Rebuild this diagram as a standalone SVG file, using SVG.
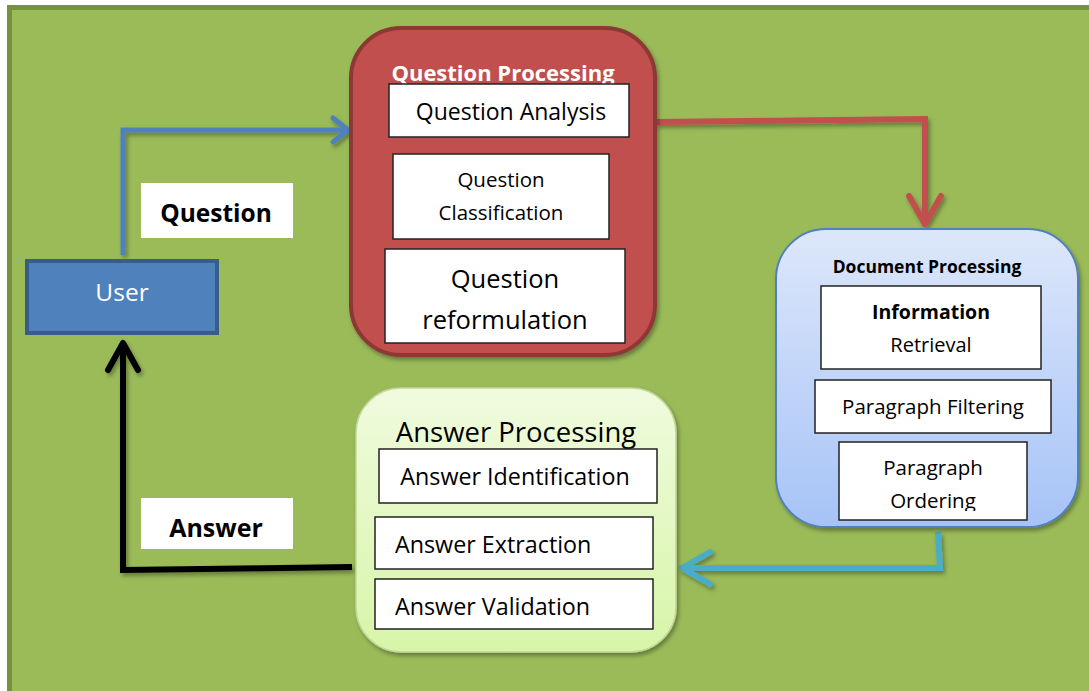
<svg xmlns="http://www.w3.org/2000/svg" width="1089" height="691" viewBox="0 0 1089 691">
<style>
text{font-family:"Open Sans","Noto Sans",sans-serif;fill:#000}
.inner{fill:#fff;stroke:#222;stroke-width:1.5}
.lbl{fill:#fff}
.b{font-weight:bold}
.c{text-anchor:middle}
.conn{fill:none;stroke-linecap:butt;stroke-linejoin:miter}
.head{fill:none;stroke-linecap:round;stroke-linejoin:round}
</style>
<defs>
<filter id="sh" x="-10%" y="-10%" width="130%" height="130%">
<feDropShadow dx="2" dy="3" stdDeviation="2" flood-color="#000" flood-opacity="0.35"/>
</filter>
<linearGradient id="gBlue" x1="0" y1="0" x2="0" y2="1">
<stop offset="0" stop-color="#dde7fa"/>
<stop offset="1" stop-color="#a6c3f7"/>
</linearGradient>
<linearGradient id="gGreen" x1="0" y1="0" x2="0" y2="1">
<stop offset="0" stop-color="#f0fbde"/>
<stop offset="1" stop-color="#d7f5a8"/>
</linearGradient>
<clipPath id="clipOrd"><rect x="839" y="442" width="188" height="69"/></clipPath>
</defs>
<rect x="0" y="0" width="1089" height="691" fill="#fff"/>
<rect x="9.5" y="7.5" width="1090" height="700" fill="#9bbb59" stroke="#76923c" stroke-width="5"/>

<g id="connectors">
<g id="c-question" filter="url(#sh)">
<path class="conn" d="M123,255 V130 H346" stroke="#4f81bd" stroke-width="5"/>
<path class="head" d="M333,118 L348,130 L333,142" stroke="#4f81bd" stroke-width="5"/>
</g>
<g id="c-qp-dp" filter="url(#sh)">
<path class="conn" d="M656,122 L925,119 V222" stroke="#c0504d" stroke-width="6"/>
<path class="head" d="M909,196 L925,224 L941,196" stroke="#c0504d" stroke-width="6"/>
</g>
<g id="c-dp-ap" filter="url(#sh)">
<path class="conn" d="M938,532 L940,568 H683" stroke="#4bacc6" stroke-width="6"/>
<path class="head" d="M710,552 L682,568 L710,584" stroke="#4bacc6" stroke-width="6"/>
</g>
<g id="c-answer" filter="url(#sh)">
<path class="conn" d="M352,567 L123,570 V345" stroke="#000" stroke-width="6"/>
<path class="head" d="M108,370 L123,343 L138,370" stroke="#000" stroke-width="6"/>
</g>
</g>

<g id="label-question">
<rect class="lbl" x="141" y="183" width="152" height="55"/>
<text class="b c" x="216" y="222" font-size="24.5">Question</text>
</g>
<g id="label-answer">
<rect class="lbl" x="141" y="498" width="152" height="51"/>
<text class="b c" x="216" y="537" font-size="25">Answer</text>
</g>

<g id="user">
<rect x="27" y="261" width="190" height="72" fill="#4f81bd" stroke="#385d8a" stroke-width="4"/>
<text class="c" x="122" y="301" font-size="24.5" style="fill:#fff">User</text>
</g>

<g id="question-processing">
<rect x="351" y="28" width="304" height="327" rx="50" fill="#c0504d" stroke="#8c3836" stroke-width="4" filter="url(#sh)"/>
<text class="b c" x="503" y="81" font-size="22" style="fill:#fff">Question Processing</text>
<g id="question-analysis">
<rect class="inner" x="389" y="84" width="240" height="53"/>
<text class="c" x="511" y="120" font-size="23">Question Analysis</text>
</g>
<g id="question-classification">
<rect class="inner" x="393" y="154" width="216" height="85"/>
<text class="c" x="501" y="187" font-size="20.5">Question</text>
<text class="c" x="501" y="220" font-size="20.5">Classification</text>
</g>
<g id="question-reformulation">
<rect class="inner" x="385" y="249" width="240" height="94"/>
<text class="c" x="505" y="288" font-size="25.5">Question</text>
<text class="c" x="505" y="329" font-size="25.5">reformulation</text>
</g>
</g>

<g id="document-processing">
<rect x="776" y="229" width="302" height="298" rx="50" fill="url(#gBlue)" stroke="#4f81bd" stroke-width="2" filter="url(#sh)"/>
<text class="b c" x="927" y="273" font-size="17.5">Document Processing</text>
<g id="information-retrieval">
<rect class="inner" x="821" y="286" width="220" height="83"/>
<text class="b c" x="931" y="319" font-size="19.5">Information</text>
<text class="c" x="931" y="352" font-size="20">Retrieval</text>
</g>
<g id="paragraph-filtering">
<rect class="inner" x="815" y="380" width="236" height="53"/>
<text class="c" x="933" y="414" font-size="20.5">Paragraph Filtering</text>
</g>
<g id="paragraph-ordering">
<rect class="inner" x="839" y="442" width="188" height="78"/>
<text class="c" x="933" y="475" font-size="20.5">Paragraph</text>
<text class="c" x="933" y="508" font-size="20.5" clip-path="url(#clipOrd)">Ordering</text>
</g>
</g>

<g id="answer-processing">
<rect x="356" y="388" width="320" height="264" rx="45" fill="url(#gGreen)" stroke="#c3d69b" stroke-width="1.5" filter="url(#sh)"/>
<text class="c" x="516" y="442" font-size="27.5">Answer Processing</text>
<g id="answer-identification">
<rect class="inner" x="379" y="449" width="278" height="54"/>
<text class="c" x="515" y="485" font-size="23.3">Answer Identification</text>
</g>
<g id="answer-extraction">
<rect class="inner" x="375" y="517" width="278" height="52"/>
<text x="395" y="553" font-size="23.3">Answer Extraction</text>
</g>
<g id="answer-validation">
<rect class="inner" x="375" y="579" width="278" height="50"/>
<text x="395" y="615" font-size="23.3">Answer Validation</text>
</g>
</g>
</svg>
